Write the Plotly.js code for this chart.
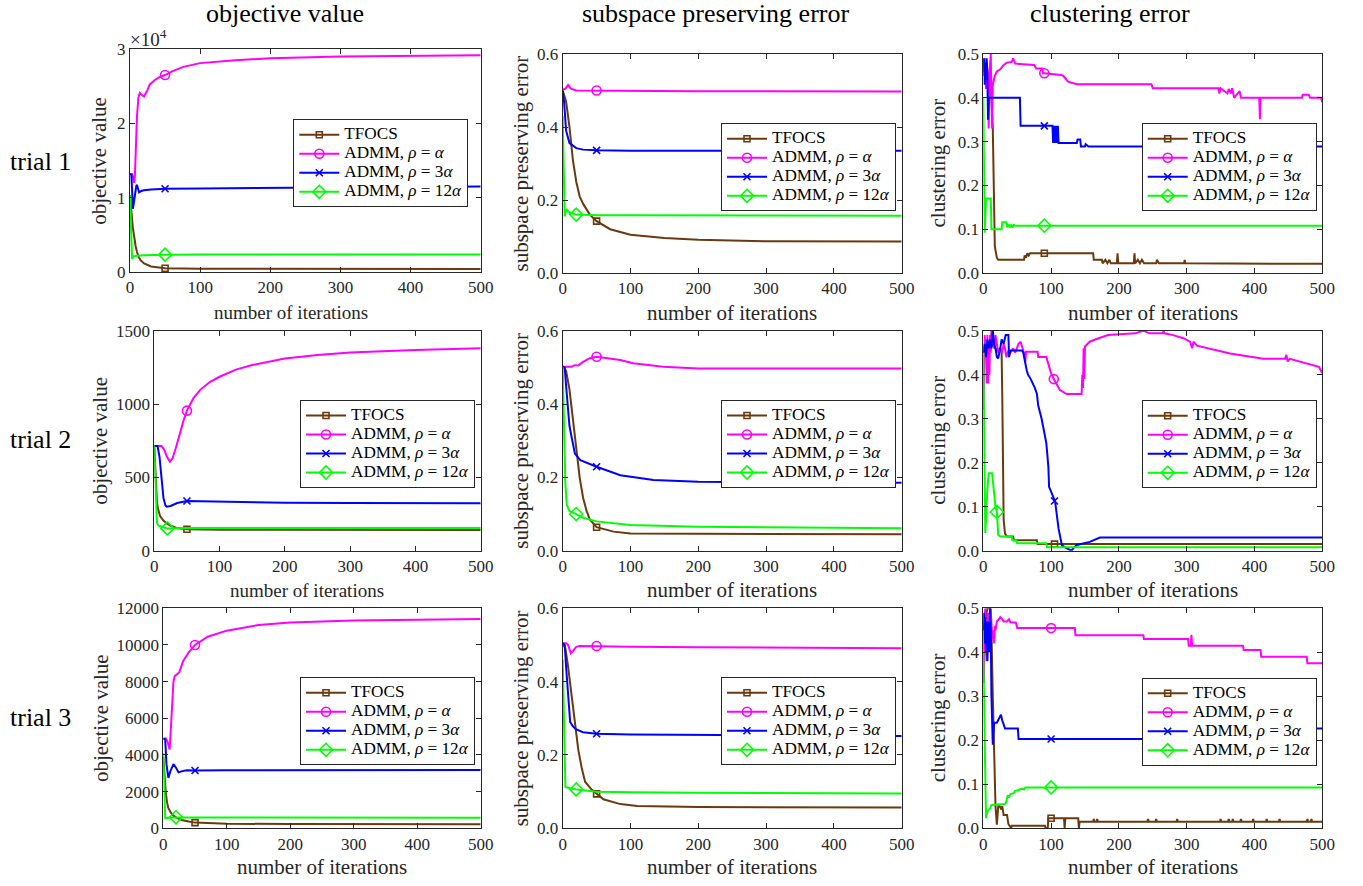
<!DOCTYPE html>
<html>
<head>
<meta charset="utf-8">
<script src="https://cdn.plot.ly/plotly-3.0.1.min.js"></script>
<style>html,body{margin:0;padding:0;background:#fff;}#plot{width:1363px;height:886px;}</style>
</head>
<body>
<div id="plot"></div>
<script>
// ---------------- DATA ----------------
const seriesNames = ['TFOCS', 'ADMM, <i>ρ</i> = <i>α</i>', 'ADMM, <i>ρ</i> = 3<i>α</i>', 'ADMM, <i>ρ</i> = 12<i>α</i>'];
const columnTitles = ['objective value', 'subspace preserving error', 'clustering error'];
const rowTitles = ['trial 1', 'trial 2', 'trial 3'];
const xTitle = 'number of iterations';
const xTickVals = [0, 100, 200, 300, 400, 500];
const obj1TickVals = [0, 10000, 20000, 30000];
const obj1TickText = ['0', '1', '2', '3'];

// trial 1 — objective value
const t1_obj_tfocs_it = [0,1,2,4,6,8,10,12,15,20,30,40,50,100,200,500];
const t1_obj_tfocs    = [10300,9500,8200,6000,4600,3500,2700,2100,1600,1150,750,580,500,430,410,400];
const t1_obj_a_it  = [0,3,5,6,7,8,10,12,14,17,20,25,28,35,42,50,60,76,100,150,200,300,400,500];
const t1_obj_a     = [13200,13200,12500,12000,13000,16000,21000,23500,24100,23800,23600,24500,25200,25800,26200,26500,27000,27600,28100,28500,28750,29000,29100,29150];
const t1_obj_3a_it = [0,2,3,4,5,7,9,10,11,13,16,20,30,50,100,200,300,500];
const t1_obj_3a    = [13200,13100,11000,8500,9000,10500,11600,11700,11400,10700,10900,11000,11100,11200,11250,11300,11400,11500];
const t1_obj_12a_it = [0,1,2,3,5,10,20,50,100,500];
const t1_obj_12a    = [10300,7000,3500,1750,2100,2200,2250,2330,2350,2350];

// trial 1 — subspace preserving error
const t1_sub_tfocs_it = [0,5,10,15,20,25,30,40,50,70,100,150,200,250,300,500];
const t1_sub_tfocs    = [0.50,0.47,0.40,0.31,0.25,0.21,0.19,0.16,0.142,0.12,0.105,0.096,0.091,0.088,0.087,0.086];
const t1_sub_a_it  = [0,4,8,12,20,50,100,200,500];
const t1_sub_a     = [0.502,0.505,0.515,0.505,0.50,0.50,0.499,0.498,0.497];
const t1_sub_3a_it = [0,2,5,10,20,30,50,100,500];
const t1_sub_3a    = [0.50,0.47,0.39,0.356,0.342,0.338,0.336,0.335,0.335];
const t1_sub_12a_it = [0,1,3,5,10,20,50,100,500];
const t1_sub_12a    = [0.43,0.30,0.155,0.175,0.165,0.16,0.158,0.158,0.157];

// trial 1 — clustering error
const t1_clu_tfocs_it = [0,3,8,12,14,16,17,20,22,60,61,63,65,67,69,90,162,163,175,176,180,183,186,188,197,198,199,222,223,224,228,231,234,237,255,256,259,296,297,298,500];
const t1_clu_tfocs    = [0.49,0.46,0.45,0.40,0.33,0.10,0.06,0.035,0.03,0.03,0.04,0.035,0.045,0.04,0.045,0.045,0.045,0.03,0.03,0.022,0.03,0.022,0.03,0.022,0.022,0.045,0.022,0.022,0.045,0.022,0.03,0.022,0.03,0.022,0.022,0.03,0.022,0.022,0.03,0.022,0.021];
const t1_clu_a_it  = [0,2,4,5,7,8,9,11,12,13,14,17,20,25,30,35,42,44,47,75,78,87,88,90,115,118,125,138,248,250,347,348,350,360,362,365,367,370,378,380,407,408,409,470,471,480,482,498,500];
const t1_clu_a     = [0.45,0.49,0.42,0.48,0.45,0.33,0.45,0.5,0.40,0.33,0.43,0.45,0.46,0.465,0.475,0.48,0.482,0.49,0.478,0.475,0.467,0.467,0.456,0.456,0.452,0.45,0.437,0.431,0.431,0.422,0.422,0.41,0.422,0.41,0.42,0.41,0.422,0.40,0.415,0.40,0.40,0.351,0.40,0.40,0.407,0.407,0.40,0.40,0.39];
const t1_clu_3a_it = [0,1,2,3,4,5,6,7,8,54,55,90,102,103,104,106,107,108,110,111,138,139,143,144,150,151,155,500];
const t1_clu_3a    = [0.46,0.49,0.43,0.48,0.44,0.49,0.45,0.35,0.40,0.40,0.336,0.336,0.336,0.297,0.336,0.297,0.336,0.297,0.336,0.297,0.297,0.305,0.305,0.289,0.289,0.294,0.289,0.289];
const t1_clu_12a_it = [0,1,2,3,4,11,12,27,28,34,35,37,39,41,43,45,47,90,500];
const t1_clu_12a    = [0.40,0.30,0.092,0.13,0.17,0.17,0.10,0.10,0.116,0.116,0.105,0.112,0.104,0.11,0.104,0.11,0.108,0.108,0.108];

// trial 2 — objective value
const t2_obj_tfocs_it = [0,2,4,6,9,14,19,25,34,50,100,500];
const t2_obj_tfocs    = [714,480,330,280,235,205,186,170,155,146,143,141];
const t2_obj_a_it  = [0,11,15,20,24,28,33,39,45,50,60,70,85,100,125,150,200,250,300,400,500];
const t2_obj_a     = [714,714,690,635,607,630,700,800,890,955,1040,1095,1150,1186,1235,1266,1311,1335,1352,1368,1380];
const t2_obj_3a_it = [0,5,8,11,14,17,19,25,35,50,70,100,200,300,500];
const t2_obj_3a    = [714,714,640,480,360,310,300,305,325,339,337,333,327,325,323];
const t2_obj_12a_it = [0,1,2,3,4,6,10,20,50,500];
const t2_obj_12a    = [714,600,420,260,190,172,165,152,155,155];

// trial 2 — subspace preserving error
const t2_sub_tfocs_it = [0,5,10,15,20,25,30,35,40,50,75,100,200,500];
const t2_sub_tfocs    = [0.502,0.49,0.44,0.36,0.27,0.20,0.145,0.11,0.085,0.064,0.052,0.047,0.046,0.045];
const t2_sub_a_it  = [0,13,18,23,30,40,50,65,85,104,148,200,500];
const t2_sub_a     = [0.502,0.502,0.506,0.505,0.515,0.525,0.529,0.526,0.52,0.511,0.502,0.497,0.497];
const t2_sub_3a_it = [0,3,5,8,10,13,18,26,50,85,134,200,500];
const t2_sub_3a    = [0.502,0.50,0.45,0.384,0.34,0.311,0.265,0.247,0.229,0.206,0.193,0.188,0.185];
const t2_sub_12a_it = [0,2,4,6,10,20,30,50,100,200,300,500];
const t2_sub_12a    = [0.50,0.35,0.18,0.125,0.108,0.10,0.09,0.08,0.07,0.065,0.063,0.061];

// trial 2 — clustering error
const t2_clu_tfocs_it = [0,5,10,15,20,25,27,28,29,30,32,35,44,45,79,80,105,500];
const t2_clu_tfocs    = [0.45,0.46,0.47,0.465,0.455,0.46,0.45,0.35,0.15,0.07,0.039,0.032,0.032,0.024,0.024,0.015,0.015,0.015];
const t2_clu_a_it  = [0,1,2,3,4,5,6,7,8,9,10,11,12,14,16,18,20,22,25,28,30,32,34,37,40,44,47,52,55,58,60,62,63,80,81,93,95,97,100,104,108,113,123,145,146,147,148,149,150,157,165,184,224,236,245,265,266,267,280,295,305,308,310,315,364,413,445,447,449,452,495,500];
const t2_clu_a     = [0.32,0.45,0.49,0.46,0.48,0.38,0.49,0.38,0.47,0.40,0.49,0.45,0.5,0.48,0.46,0.49,0.47,0.45,0.46,0.45,0.47,0.46,0.44,0.455,0.45,0.46,0.45,0.47,0.475,0.46,0.45,0.43,0.452,0.452,0.44,0.44,0.43,0.42,0.403,0.39,0.38,0.365,0.356,0.356,0.40,0.37,0.46,0.39,0.464,0.475,0.48,0.49,0.494,0.5,0.494,0.494,0.5,0.494,0.49,0.483,0.475,0.46,0.475,0.466,0.448,0.436,0.436,0.445,0.43,0.436,0.418,0.403];
const t2_clu_3a_it = [0,2,4,6,8,10,12,14,16,18,20,22,25,27,30,33,37,38,40,57,59,61,64,66,70,76,79,81,86,91,93,96,97,103,105,106,111,116,120,130,133,138,157,172,500];
const t2_clu_3a    = [0.45,0.47,0.44,0.48,0.46,0.48,0.46,0.5,0.47,0.46,0.44,0.437,0.46,0.48,0.47,0.49,0.49,0.44,0.455,0.455,0.45,0.43,0.41,0.40,0.39,0.37,0.357,0.33,0.30,0.26,0.244,0.19,0.145,0.123,0.113,0.111,0.05,0.012,0.008,0.0,0.006,0.013,0.02,0.03,0.03];
const t2_clu_12a_it = [0,1,2,3,4,5,6,8,13,15,18,20,22,25,42,43,49,50,93,94,500];
const t2_clu_12a    = [0.45,0.35,0.15,0.04,0.09,0.13,0.14,0.176,0.176,0.145,0.10,0.088,0.036,0.032,0.032,0.024,0.024,0.017,0.017,0.0076,0.0076];

// trial 3 — objective value
const t3_obj_tfocs_it = [0,2,4,6,8,12,16,22,29,40,50,100,200,500];
const t3_obj_tfocs    = [3900,2800,1900,1400,1100,850,690,560,455,370,310,250,230,218];
const t3_obj_a_it  = [0,4,7,10,12,14,16,18,22,25,31,40,50,70,100,150,200,300,400,500];
const t3_obj_a     = [4900,4900,4700,4300,5500,7000,8000,8300,8400,8500,9100,9600,10000,10450,10780,11090,11220,11330,11380,11420];
const t3_obj_3a_it = [0,3,5,8,11,16,20,24,30,37,50,100,500];
const t3_obj_3a    = [4900,4850,3500,2750,3100,3500,3300,3050,3120,3170,3150,3170,3180];
const t3_obj_12a_it = [0,1,3,10,20,25,500];
const t3_obj_12a    = [4100,2500,560,580,600,590,580];

// trial 3 — subspace preserving error
const t3_sub_tfocs_it = [0,4,8,12,16,20,23,28,33,43,50,60,85,110,200,500];
const t3_sub_tfocs    = [0.505,0.49,0.44,0.38,0.305,0.25,0.214,0.165,0.127,0.105,0.094,0.079,0.066,0.061,0.058,0.057];
const t3_sub_a_it  = [0,5,8,10,12,15,20,25,50,100,200,300,500];
const t3_sub_a     = [0.505,0.505,0.50,0.485,0.477,0.483,0.495,0.497,0.497,0.495,0.494,0.493,0.491];
const t3_sub_3a_it = [0,3,5,7,9,11,15,20,30,50,100,200,300,500];
const t3_sub_3a    = [0.505,0.50,0.44,0.38,0.32,0.29,0.278,0.27,0.262,0.258,0.256,0.255,0.254,0.252];
const t3_sub_12a_it = [0,2,4,10,20,50,100,200,500];
const t3_sub_12a    = [0.46,0.30,0.112,0.11,0.106,0.10,0.098,0.097,0.095];

// trial 3 — clustering error
const t3_clu_tfocs_it = [0,3,6,10,12,14,16,18,20,22,24,26,28,30,35,37,41,42,91,92,95,96,100,119,120,121,140,141,142,162,163,164,167,168,169,242,243,244,254,255,256,285,286,287,349,350,351,361,362,363,367,368,369,379,380,381,397,398,399,417,418,419,436,437,438,477,478,479,483,484,485,500];
const t3_clu_tfocs    = [0.45,0.48,0.5,0.5,0.45,0.3,0.15,0.05,0.008,0.05,0.05,0.045,0.05,0.03,0.03,0.01,0.0,0.006,0.006,0.0,0.0,0.023,0.023,0.023,0.0,0.023,0.023,0.0,0.015,
  0.015,0.021,0.015, 0.015,0.021,0.015, 0.015,0.021,0.015, 0.015,0.021,0.015, 0.015,0.021,0.015, 0.015,0.021,0.015, 0.015,0.021,0.015,
  0.015,0.021,0.015, 0.015,0.021,0.015, 0.015,0.021,0.015, 0.015,0.021,0.015, 0.015,0.021,0.015, 0.015,0.021,0.015, 0.015,0.021,0.015, 0.015];
const t3_clu_a_it  = [0,1,2,3,5,7,9,11,13,15,16,17,18,20,23,25,28,30,35,38,40,48,50,100,135,136,236,237,302,303,306,307,308,383,384,409,410,477,478,500];
const t3_clu_a     = [0.42,0.33,0.48,0.5,0.38,0.49,0.42,0.5,0.43,0.45,0.42,0.46,0.45,0.47,0.475,0.48,0.475,0.47,0.47,0.475,0.468,0.468,0.455,0.455,0.455,0.439,0.439,0.43,0.43,0.415,0.415,0.44,0.415,0.415,0.405,0.405,0.39,0.39,0.375,0.375];
const t3_clu_3a_it = [0,1,2,3,4,5,6,7,8,9,10,11,12,14,16,20,22,24,26,28,30,32,51,52,100,400,401,500];
const t3_clu_3a    = [0.45,0.49,0.42,0.48,0.40,0.47,0.38,0.45,0.47,0.40,0.5,0.45,0.3,0.19,0.24,0.24,0.246,0.255,0.258,0.245,0.235,0.227,0.227,0.203,0.203,0.203,0.227,0.227];
const t3_clu_12a_it = [0,2,4,6,10,12,32,34,36,38,40,45,47,52,57,60,62,100,500];
const t3_clu_12a    = [0.40,0.2,0.023,0.04,0.045,0.053,0.055,0.06,0.075,0.07,0.078,0.08,0.085,0.087,0.09,0.088,0.093,0.093,0.093];

// iteration at which each series shows its single marker
const t1_obj_markIt = [50,50,50,50];
const t1_sub_markIt = [50,50,50,20];
const t1_clu_markIt = [90,90,90,90];
const t2_obj_markIt = [50,50,50,20];
const t2_sub_markIt = [50,50,50,20];
const t2_clu_markIt = [105,104,105,20];
const t3_obj_markIt = [50,50,50,20];
const t3_sub_markIt = [50,50,50,20];
const t3_clu_markIt = [100,100,100,100];

// ---------------- BUILD ----------------
const W = 1363, H = 886;
const FONT = 'Liberation Serif';
const AX = '#262626';
const COLORS = ['#6a3a0e', '#ff00ff', '#0000ff', '#00ff00'];
const SYMBOLS = ['square-open', 'circle-open', 'x-thin-open', 'diamond-open'];
const MSIZE = [6, 9, 7, 10];

const panels = [
  {series: [[t1_obj_tfocs_it,t1_obj_tfocs],[t1_obj_a_it,t1_obj_a],[t1_obj_3a_it,t1_obj_3a],[t1_obj_12a_it,t1_obj_12a]], mark: t1_obj_markIt, yr: [0,30000], tv: obj1TickVals, tt: obj1TickText, ytitle: 'objective value'},
  {series: [[t1_sub_tfocs_it,t1_sub_tfocs],[t1_sub_a_it,t1_sub_a],[t1_sub_3a_it,t1_sub_3a],[t1_sub_12a_it,t1_sub_12a]], mark: t1_sub_markIt, yr: [0,0.6], dtick: 0.2, ytitle: 'subspace preserving error'},
  {series: [[t1_clu_tfocs_it,t1_clu_tfocs],[t1_clu_a_it,t1_clu_a],[t1_clu_3a_it,t1_clu_3a],[t1_clu_12a_it,t1_clu_12a]], mark: t1_clu_markIt, yr: [0,0.5], dtick: 0.1, ytitle: 'clustering error'},
  {series: [[t2_obj_tfocs_it,t2_obj_tfocs],[t2_obj_a_it,t2_obj_a],[t2_obj_3a_it,t2_obj_3a],[t2_obj_12a_it,t2_obj_12a]], mark: t2_obj_markIt, yr: [0,1500], dtick: 500, ytitle: 'objective value'},
  {series: [[t2_sub_tfocs_it,t2_sub_tfocs],[t2_sub_a_it,t2_sub_a],[t2_sub_3a_it,t2_sub_3a],[t2_sub_12a_it,t2_sub_12a]], mark: t2_sub_markIt, yr: [0,0.6], dtick: 0.2, ytitle: 'subspace preserving error'},
  {series: [[t2_clu_tfocs_it,t2_clu_tfocs],[t2_clu_a_it,t2_clu_a],[t2_clu_3a_it,t2_clu_3a],[t2_clu_12a_it,t2_clu_12a]], mark: t2_clu_markIt, yr: [0,0.5], dtick: 0.1, ytitle: 'clustering error'},
  {series: [[t3_obj_tfocs_it,t3_obj_tfocs],[t3_obj_a_it,t3_obj_a],[t3_obj_3a_it,t3_obj_3a],[t3_obj_12a_it,t3_obj_12a]], mark: t3_obj_markIt, yr: [0,12000], dtick: 2000, ytitle: 'objective value'},
  {series: [[t3_sub_tfocs_it,t3_sub_tfocs],[t3_sub_a_it,t3_sub_a],[t3_sub_3a_it,t3_sub_3a],[t3_sub_12a_it,t3_sub_12a]], mark: t3_sub_markIt, yr: [0,0.6], dtick: 0.2, ytitle: 'subspace preserving error'},
  {series: [[t3_clu_tfocs_it,t3_clu_tfocs],[t3_clu_a_it,t3_clu_a],[t3_clu_3a_it,t3_clu_3a],[t3_clu_12a_it,t3_clu_12a]], mark: t3_clu_markIt, yr: [0,0.5], dtick: 0.1, ytitle: 'clustering error'}
];

// pixel geometry of each axes box [left,right,top,bottom]
const boxes = [
  [130, 480.7, 49, 272], [562.7, 901.7, 54, 273], [983.3, 1322.3, 54, 273],
  [154.3, 480.7, 330.7, 550.7], [562.7, 901.7, 330.7, 550.7], [983.3, 1322.3, 330.7, 550.7],
  [163.3, 480.7, 608.3, 828.3], [562.7, 901.7, 608.3, 828.3], [983.3, 1322.3, 608.3, 828.3]
];
// legend top-left corners
const legendPos = [
  [293.3, 119.3], [721, 123.3], [1141.7, 123.3],
  [300, 400], [721, 400], [1141.7, 400.3],
  [300, 677.3], [721, 677.3], [1141.7, 677.7]
];
// y-title centers (x px); x-title centers (x px, y px) and sizes
const yTitleX = [98.3, 521, 938, 100, 521, 938, 101.7, 521, 938];
const xTitleX = [291, 732.2, 1152.8, 307, 732.2, 1152.8, 322, 732.2, 1152.8];
const xTitleY = [313, 313, 313, 590, 590, 590, 867, 867, 867];
const xTitleSize = [19, 21, 21, 19, 21, 21, 21, 21, 21];

const px = v => v / W;
const py = v => 1 - v / H;

const traces = [];
const layout = {
  width: W, height: H, autosize: false,
  margin: {l: 0, r: 0, t: 0, b: 0, pad: 0},
  paper_bgcolor: '#ffffff', plot_bgcolor: '#ffffff',
  font: {family: FONT, color: AX},
  showlegend: true,
  annotations: []
};

panels.forEach((p, i) => {
  const n = i + 1;
  const xa = 'x' + (n === 1 ? '' : n), ya = 'y' + (n === 1 ? '' : n);
  const xk = 'xaxis' + (n === 1 ? '' : n), yk = 'yaxis' + (n === 1 ? '' : n);
  const lk = 'legend' + (n === 1 ? '' : n);
  const b = boxes[i];
  const common = {
    showline: true, linecolor: AX, linewidth: 1, mirror: 'ticks',
    ticks: 'inside', ticklen: 5, tickwidth: 1, tickcolor: AX,
    showgrid: false, zeroline: false, fixedrange: true,
    tickfont: {family: FONT, size: 17, color: AX}
  };
  layout[xk] = Object.assign({}, common, {
    domain: [px(b[0]), px(b[1])], anchor: ya, range: [0, 500],
    tickmode: 'array', tickvals: xTickVals
  });
  const yax = Object.assign({}, common, {
    domain: [py(b[3]), py(b[2])], anchor: xa, range: p.yr, tickformat: 'd'
  });
  if (p.tv) { yax.tickmode = 'array'; yax.tickvals = p.tv; yax.ticktext = p.tt; }
  else { yax.tickmode = 'linear'; yax.tick0 = 0; yax.dtick = p.dtick; yax.tickformat = p.dtick < 1 ? '.1f' : 'd'; }
  layout[yk] = yax;

  const lp = legendPos[i];
  layout[lk] = {
    x: px(lp[0]), y: py(lp[1]), xanchor: 'left', yanchor: 'top',
    xref: 'paper', yref: 'paper',
    bgcolor: '#ffffff', bordercolor: AX, borderwidth: 1,
    font: {family: FONT, size: 12, color: '#000000'},
    itemwidth: 40, tracegroupgap: 0, traceorder: 'normal'
  };

  p.series.forEach((s, k) => {
    const it = s[0], v = s[1];
    traces.push({
      x: it, y: v, xaxis: xa, yaxis: ya, type: 'scatter', mode: 'lines',
      line: {color: COLORS[k], width: 2}, showlegend: false, hoverinfo: 'skip'
    });
    // single marker point taken from the series at the chosen iteration
    let best = 0;
    it.forEach((xv, j) => { if (Math.abs(xv - p.mark[k]) < Math.abs(it[best] - p.mark[k])) best = j; });
    traces.push({
      x: [it[best]], y: [v[best]], xaxis: xa, yaxis: ya, type: 'scatter', mode: 'lines+markers',
      name: '<span style="font-size:17.2px">' + seriesNames[k] + '</span>', legend: lk, showlegend: true,
      line: {color: COLORS[k], width: 2},
      marker: {symbol: SYMBOLS[k], size: MSIZE[k], color: COLORS[k], line: {color: COLORS[k], width: 1.6}},
      hoverinfo: 'skip'
    });
  });

  layout.annotations.push({
    text: p.ytitle, xref: 'paper', yref: 'paper', x: px(yTitleX[i]), y: py((b[2] + b[3]) / 2),
    xanchor: 'center', yanchor: 'middle', textangle: -90, showarrow: false,
    font: {family: FONT, size: 21, color: AX}
  });
  layout.annotations.push({
    text: xTitle, xref: 'paper', yref: 'paper', x: px(xTitleX[i]), y: py(xTitleY[i]),
    xanchor: 'center', yanchor: 'middle', showarrow: false,
    font: {family: FONT, size: xTitleSize[i], color: AX}
  });
});

const colTitleX = [284.5, 715.5, 1110];
columnTitles.forEach((t, c) => layout.annotations.push({
  text: t, xref: 'paper', yref: 'paper', x: px(colTitleX[c]), y: py(13),
  xanchor: 'center', yanchor: 'middle', showarrow: false,
  font: {family: FONT, size: 26, color: '#000000'}
}));
const rowTitleY = [162, 440, 717];
rowTitles.forEach((t, r) => layout.annotations.push({
  text: t, xref: 'paper', yref: 'paper', x: px(40), y: py(rowTitleY[r]),
  xanchor: 'center', yanchor: 'middle', showarrow: false,
  font: {family: FONT, size: 26, color: '#000000'}
}));
layout.annotations.push({
  text: '×10<sup>4</sup>', xref: 'paper', yref: 'paper', x: px(128), y: py(38),
  xanchor: 'left', yanchor: 'middle', showarrow: false,
  font: {family: FONT, size: 19, color: AX}
});

Plotly.newPlot('plot', traces, layout, {displayModeBar: false, staticPlot: true});
</script>
</body>
</html>
